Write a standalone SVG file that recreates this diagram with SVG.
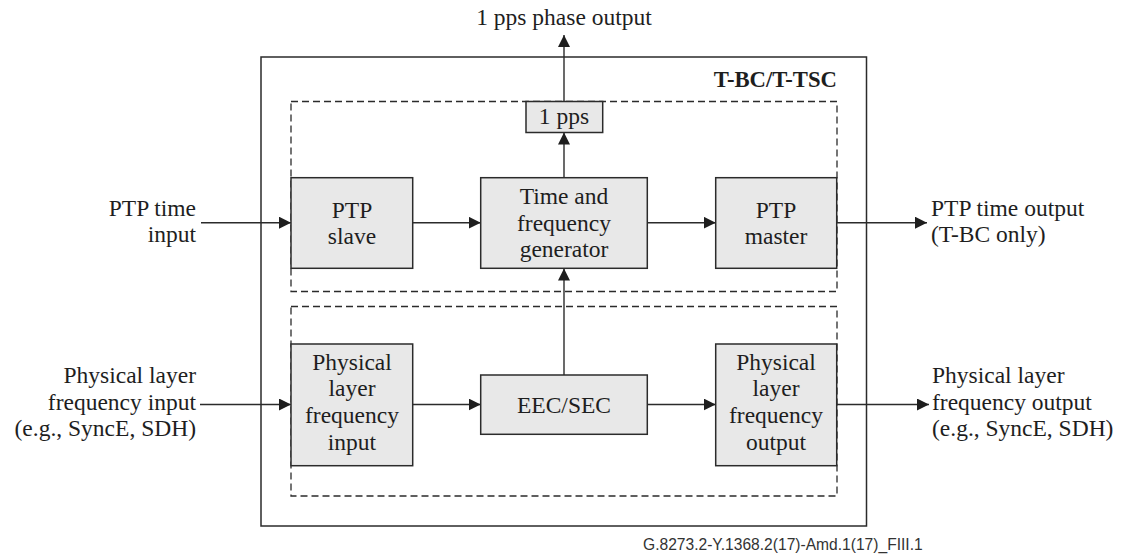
<svg xmlns="http://www.w3.org/2000/svg" width="1121" height="554" viewBox="0 0 1121 554">
  <style>
    .frame { fill: none; stroke: #2b2b2b; stroke-width: 1.5; }
    .zone { fill: none; stroke: #2b2b2b; stroke-width: 1.3; stroke-dasharray: 7 4; }
    .block { fill: #e8e8e8; stroke: #2b2b2b; stroke-width: 1.5; }
    .link { fill: none; stroke: #2b2b2b; stroke-width: 1.4; marker-end: url(#head); }
    .t { font-family: 'Liberation Serif', 'Times New Roman', serif; font-size: 23.5px; fill: #1e1e1e; }
    .c { text-anchor: middle; }
    .e { text-anchor: end; }
    .b { font-weight: bold; font-size: 22.7px; }
    .cap { font-family: 'Liberation Sans', Arial, sans-serif; font-size: 15.6px; fill: #333; }
  </style>
  <defs>
    <marker id="head" markerUnits="userSpaceOnUse" markerWidth="12" markerHeight="12" refX="12" refY="6" orient="auto">
      <path d="M0,0 L12,6 L0,12 z" fill="#1e1e1e"/>
    </marker>
  </defs>

  <rect width="1121" height="554" fill="#ffffff"/>

  <!-- T-BC/T-TSC enclosure with its two functional zones -->
  <g id="enclosure">
    <rect class="frame" x="261" y="57" width="605.5" height="469"/>
    <text class="t e b" x="837" y="87">T-BC/T-TSC</text>
    <rect class="zone" x="291" y="101.5" width="546" height="190"/>
    <rect class="zone" x="291" y="306.5" width="546" height="189.5"/>
  </g>

  <!-- connectors -->
  <g id="connectors">
    <line class="link" x1="564" y1="101.5" x2="564" y2="35"/>
    <line class="link" x1="564" y1="178" x2="564" y2="132.5"/>
    <line class="link" x1="564" y1="375" x2="564" y2="268.5"/>
    <line class="link" x1="201" y1="222.7" x2="291" y2="222.7"/>
    <line class="link" x1="412.7" y1="222.7" x2="480.7" y2="222.7"/>
    <line class="link" x1="647.3" y1="222.7" x2="715.7" y2="222.7"/>
    <line class="link" x1="836.7" y1="222.7" x2="927" y2="222.7"/>
    <line class="link" x1="200" y1="404.5" x2="291" y2="404.5"/>
    <line class="link" x1="412.7" y1="404.5" x2="480.7" y2="404.5"/>
    <line class="link" x1="647.3" y1="404.5" x2="715.7" y2="404.5"/>
    <line class="link" x1="836.7" y1="404.5" x2="929" y2="404.5"/>
  </g>

  <g id="pps">
    <rect class="block" x="526" y="101.5" width="76.7" height="31"/>
    <text class="t c" x="564" y="124">1 pps</text>
  </g>

  <g id="ptp-slave">
    <rect class="block" x="291" y="177.7" width="121.7" height="90.6"/>
    <text class="t c" x="352" y="218">PTP<tspan x="352" dy="25.5">slave</tspan></text>
  </g>

  <g id="time-freq-generator">
    <rect class="block" x="480.7" y="177.7" width="166.6" height="90.6"/>
    <text class="t c" x="564" y="204">Time and<tspan x="564" dy="26.5">frequency</tspan><tspan x="564" dy="26.5">generator</tspan></text>
  </g>

  <g id="ptp-master">
    <rect class="block" x="715.7" y="177.7" width="121" height="90.6"/>
    <text class="t c" x="776" y="218">PTP<tspan x="776" dy="25.5">master</tspan></text>
  </g>

  <g id="phy-freq-input">
    <rect class="block" x="291" y="344" width="121.7" height="121.7"/>
    <text class="t c" x="352" y="369.5">Physical<tspan x="352" dy="26.7">layer</tspan><tspan x="352" dy="26.7">frequency</tspan><tspan x="352" dy="26.7">input</tspan></text>
  </g>

  <g id="eec-sec">
    <rect class="block" x="480.7" y="375" width="166.6" height="59.3"/>
    <text class="t c" x="564" y="413">EEC/SEC</text>
  </g>

  <g id="phy-freq-output">
    <rect class="block" x="715.7" y="344" width="121" height="121.7"/>
    <text class="t c" x="776" y="369.5">Physical<tspan x="776" dy="26.7">layer</tspan><tspan x="776" dy="26.7">frequency</tspan><tspan x="776" dy="26.7">output</tspan></text>
  </g>

  <!-- external signal labels -->
  <g id="pps-phase-output">
    <text class="t c" x="564" y="25">1 pps phase output</text>
  </g>
  <g id="ptp-time-input">
    <text class="t e" x="196" y="216">PTP time<tspan x="196" dy="25.5">input</tspan></text>
  </g>
  <g id="ptp-time-output">
    <text class="t" x="931" y="216">PTP time output<tspan x="931" dy="25.5">(T-BC only)</tspan></text>
  </g>
  <g id="phy-input-label">
    <text class="t e" x="196" y="383">Physical layer<tspan x="196" dy="26.7">frequency input</tspan><tspan x="196" dy="26.7">(e.g., SyncE, SDH)</tspan></text>
  </g>
  <g id="phy-output-label">
    <text class="t" x="932" y="383">Physical layer<tspan x="932" dy="26.7">frequency output</tspan><tspan x="932" dy="26.7">(e.g., SyncE, SDH)</tspan></text>
  </g>

  <text class="cap" x="643" y="550">G.8273.2-Y.1368.2(17)-Amd.1(17)_FIII.1</text>
</svg>
